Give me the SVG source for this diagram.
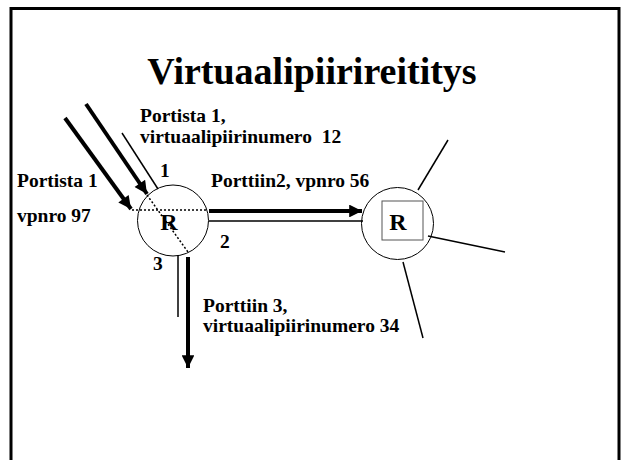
<svg xmlns="http://www.w3.org/2000/svg" width="624" height="460" viewBox="0 0 624 460">
<style>
.t{font-family:"Liberation Serif","Times New Roman",serif;font-weight:bold;fill:#000}
.lbl{font-size:19.5px}
.thin{stroke:#000;stroke-width:1.5;fill:none}
.thick{stroke:#000;stroke-width:4;fill:none}
.dot{stroke:#000;stroke-width:1.5;stroke-dasharray:2,2;fill:none}
</style>
<defs>
<marker id="ah" viewBox="0 0 10 10" refX="10" refY="5" markerWidth="4" markerHeight="3.2" orient="auto" markerUnits="strokeWidth">
<path d="M0,0 L10,5 L0,10 z" fill="#000"/>
</marker>
</defs>
<rect x="11" y="8.5" width="608" height="460" fill="#fff" stroke="#000" stroke-width="3"/>
<text class="t" x="312" y="84" font-size="38" text-anchor="middle">Virtuaalipiirireititys</text>

<g id="router1">
<circle cx="173" cy="220.5" r="35.5" fill="#fff" stroke="#000" stroke-width="1"/>
<line class="dot" x1="132" y1="210" x2="208" y2="210"/>
<line class="dot" x1="147" y1="195" x2="188" y2="252"/>
<text class="t" x="169" y="230" font-size="24" text-anchor="middle">R</text>
</g>
<g id="router2">
<circle cx="397.5" cy="223.5" r="36" fill="#fff" stroke="#000" stroke-width="1"/>
<rect x="382" y="201" width="41" height="39" fill="#fff" stroke="#555" stroke-width="1"/>
<text class="t" x="398" y="230" font-size="24" text-anchor="middle">R</text>
</g>

<g id="connectors">
<line class="thick" x1="86" y1="104" x2="147" y2="194" marker-end="url(#ah)"/>
<line class="thick" x1="65" y1="118" x2="131" y2="209" marker-end="url(#ah)"/>
<line class="thin" x1="122" y1="133" x2="158" y2="189"/>
<line class="thick" x1="209" y1="211" x2="362" y2="211" marker-end="url(#ah)"/>
<line class="thin" x1="209" y1="221" x2="363" y2="221"/>
<line class="thin" x1="178" y1="255" x2="178" y2="317"/>
<line class="thick" x1="188" y1="257" x2="188" y2="368" marker-end="url(#ah)"/>
<line class="thin" x1="418" y1="190" x2="448" y2="140"/>
<line class="thin" x1="428" y1="236" x2="505" y2="252"/>
<line class="thin" x1="403" y1="262" x2="423" y2="338"/>
</g>

<g id="labels">
<text class="t lbl" x="140" y="122">Portista 1,</text>
<text class="t lbl" x="140" y="143" xml:space="preserve">virtuaalipiirinumero  12</text>
<text class="t lbl" x="17" y="187">Portista 1</text>
<text class="t lbl" x="17" y="222">vpnro 97</text>
<text class="t lbl" x="160" y="177">1</text>
<text class="t lbl" x="211" y="187">Porttiin2, vpnro 56</text>
<text class="t lbl" x="220" y="248">2</text>
<text class="t lbl" x="153" y="270">3</text>
<text class="t lbl" x="203" y="312">Porttiin 3,</text>
<text class="t lbl" x="203" y="332">virtuaalipiirinumero 34</text>
</g>
</svg>
